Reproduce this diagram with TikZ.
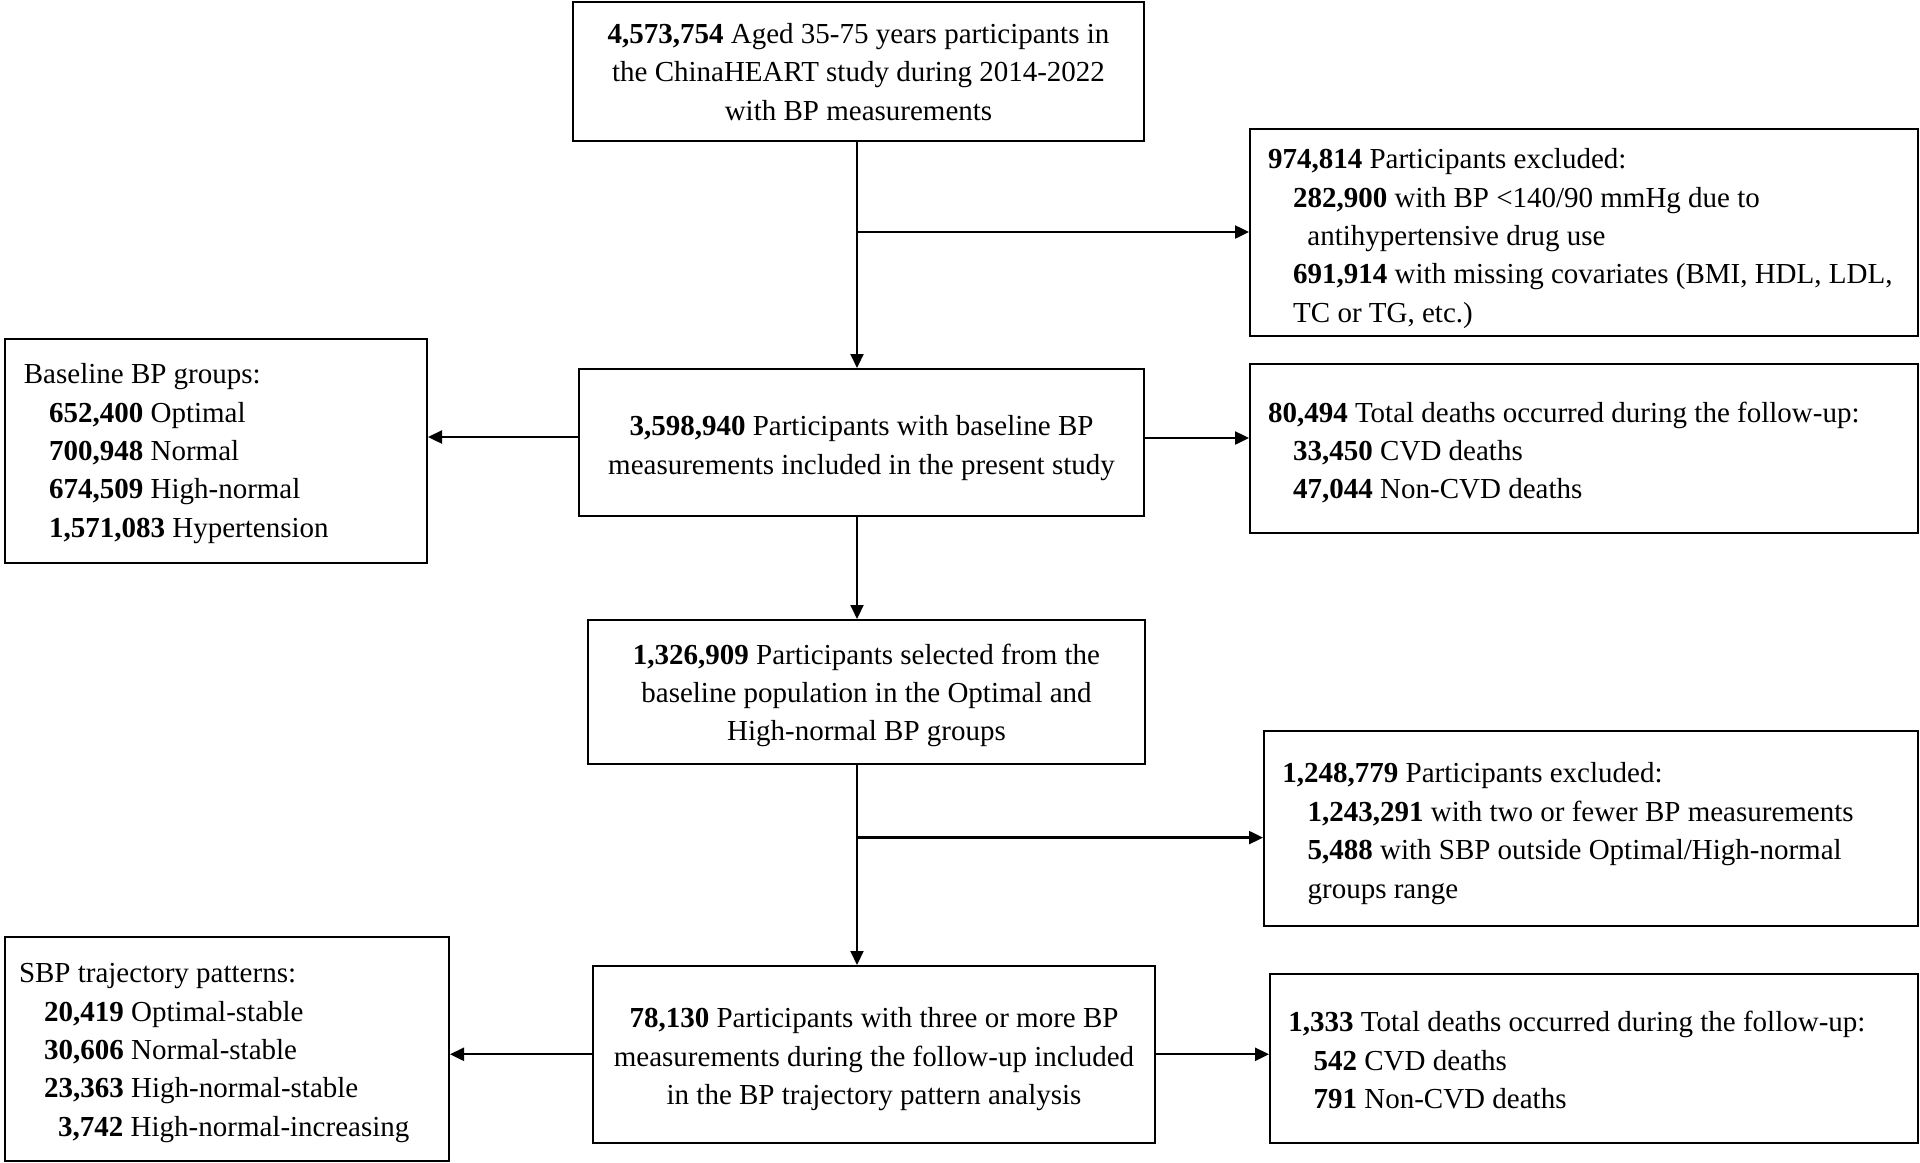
\documentclass[tikz,border=0pt]{standalone}
\usepackage{fontspec}
\setmainfont{Liberation Serif}
\usetikzlibrary{arrows.meta,calc}
\tikzset{
  box/.style={draw, line width=1pt, inner sep=0pt, fill=white},
  txt/.style={inner sep=0pt, align=left, font=\fontsize{14.5}{19.2}\selectfont},
  ctxt/.style={inner sep=0pt, align=center, font=\fontsize{14.5}{19.2}\selectfont},
  arr/.style={line width=1pt, -{Triangle[length=7pt,width=6.5pt]}},
  harr/.style={line width=1.2pt, -{Triangle[length=7pt,width=6.5pt]}},
}
\newcommand{\ind}{\hspace*{12.6pt}}
\begin{document}
\begin{tikzpicture}[x=0.5pt,y=-0.5pt]
\useasboundingbox (0,0) rectangle (1920,1162);
% boxes
\node[box, minimum width=285.5pt, minimum height=69.5pt] (top) at (858.5,71.5) {};
\node[box, minimum width=334pt, minimum height=103.5pt] (excl1) at (1584,232) {};
\node[box, minimum width=211pt, minimum height=112pt] (base) at (216,451) {};
\node[box, minimum width=282.5pt, minimum height=73.25pt] (main2) at (861.5,442.25) {};
\node[box, minimum width=334pt, minimum height=84.5pt] (dth1) at (1584,448.5) {};
\node[box, minimum width=278.5pt, minimum height=72pt] (box3) at (866.5,692) {};
\node[box, minimum width=327pt, minimum height=97.5pt] (excl2) at (1591,828.5) {};
\node[box, minimum width=222pt, minimum height=112pt] (sbp) at (227,1049) {};
\node[box, minimum width=281pt, minimum height=88.25pt] (box4) at (874,1054.25) {};
\node[box, minimum width=324pt, minimum height=84.5pt] (dth2) at (1594,1058) {};
% texts
\node[ctxt] (ttop) at ($(top.center)+(0,0.5)$) {\textbf{4,573,754} Aged 35-75 years participants in\\the ChinaHEART study during 2014-2022\\with BP measurements};
\node[txt, anchor=west] (texcl1) at ($(excl1.west)+(18.6,6.5)$) {\textbf{974,814} Participants excluded:\\\ind\textbf{282,900} with BP <140/90 mmHg due to\\\hspace*{19.7pt}antihypertensive drug use\\\ind\textbf{691,914} with missing covariates (BMI, HDL, LDL,\\\ind TC or TG, etc.)};
\node[txt, anchor=west] (tbase) at ($(base.west)+(19.5,2.5)$) {Baseline BP groups:\\\ind\textbf{652,400} Optimal\\\ind\textbf{700,948} Normal\\\ind\textbf{674,509} High-normal\\\ind\textbf{1,571,083} Hypertension};
\node[ctxt] (tmain2) at ($(main2.center)+(0,6)$) {\textbf{3,598,940} Participants with baseline BP\\measurements included in the present study};
\node[txt, anchor=west] (tdth1) at ($(dth1.west)+(18.6,4)$) {\textbf{80,494} Total deaths occurred during the follow-up:\\\ind\textbf{33,450} CVD deaths\\\ind\textbf{47,044} Non-CVD deaths};
\node[ctxt] (tbox3) at ($(box3.center)+(0,3.5)$) {\textbf{1,326,909} Participants selected from the\\baseline population in the Optimal and\\High-normal BP groups};
\node[txt, anchor=west] (texcl2) at ($(excl2.west)+(19,5)$) {\textbf{1,248,779} Participants excluded:\\\ind\textbf{1,243,291} with two or fewer BP measurements\\\ind\textbf{5,488} with SBP outside Optimal/High-normal\\\ind groups range};
\node[txt, anchor=west] (tsbp) at ($(sbp.west)+(14.6,4)$) {SBP trajectory patterns:\\\ind\textbf{20,419} Optimal-stable\\\ind\textbf{30,606} Normal-stable\\\ind\textbf{23,363} High-normal-stable\\\ind\hspace*{7pt}\textbf{3,742} High-normal-increasing};
\node[ctxt] (tbox4) at ($(box4.center)+(0,5)$) {\textbf{78,130} Participants with three or more BP\\measurements during the follow-up included\\in the BP trajectory pattern analysis};
\node[txt, anchor=west] (tdth2) at ($(dth2.west)+(19,2)$) {\textbf{1,333} Total deaths occurred during the follow-up:\\\ind\textbf{542} CVD deaths\\\ind\textbf{791} Non-CVD deaths};
% connectors
\coordinate (v1) at (857,141);
\coordinate (b1) at (857,232);
\coordinate (v2) at (857,515.5);
\coordinate (b2) at (857,837.6);
\coordinate (l1) at (0,437);
\coordinate (r1) at (0,438);
\draw[arr] (v1) -- (v1 |- main2.north);
\draw[harr] (b1) -- (excl1.west |- b1);
\draw[arr] (v2) -- (v2 |- box3.north);
\draw[arr] (v2 |- box3.south) -- (v2 |- box4.north);
\draw[harr] (b2) -- (excl2.west |- b2);
\draw[harr] (main2.west |- l1) -- (base.east |- l1);
\draw[harr] (main2.east |- r1) -- (dth1.west |- r1);
\draw[harr] (box4.west) -- (sbp.east |- box4.west);
\draw[harr] (box4.east) -- (dth2.west |- box4.east);
\end{tikzpicture}
\end{document}
